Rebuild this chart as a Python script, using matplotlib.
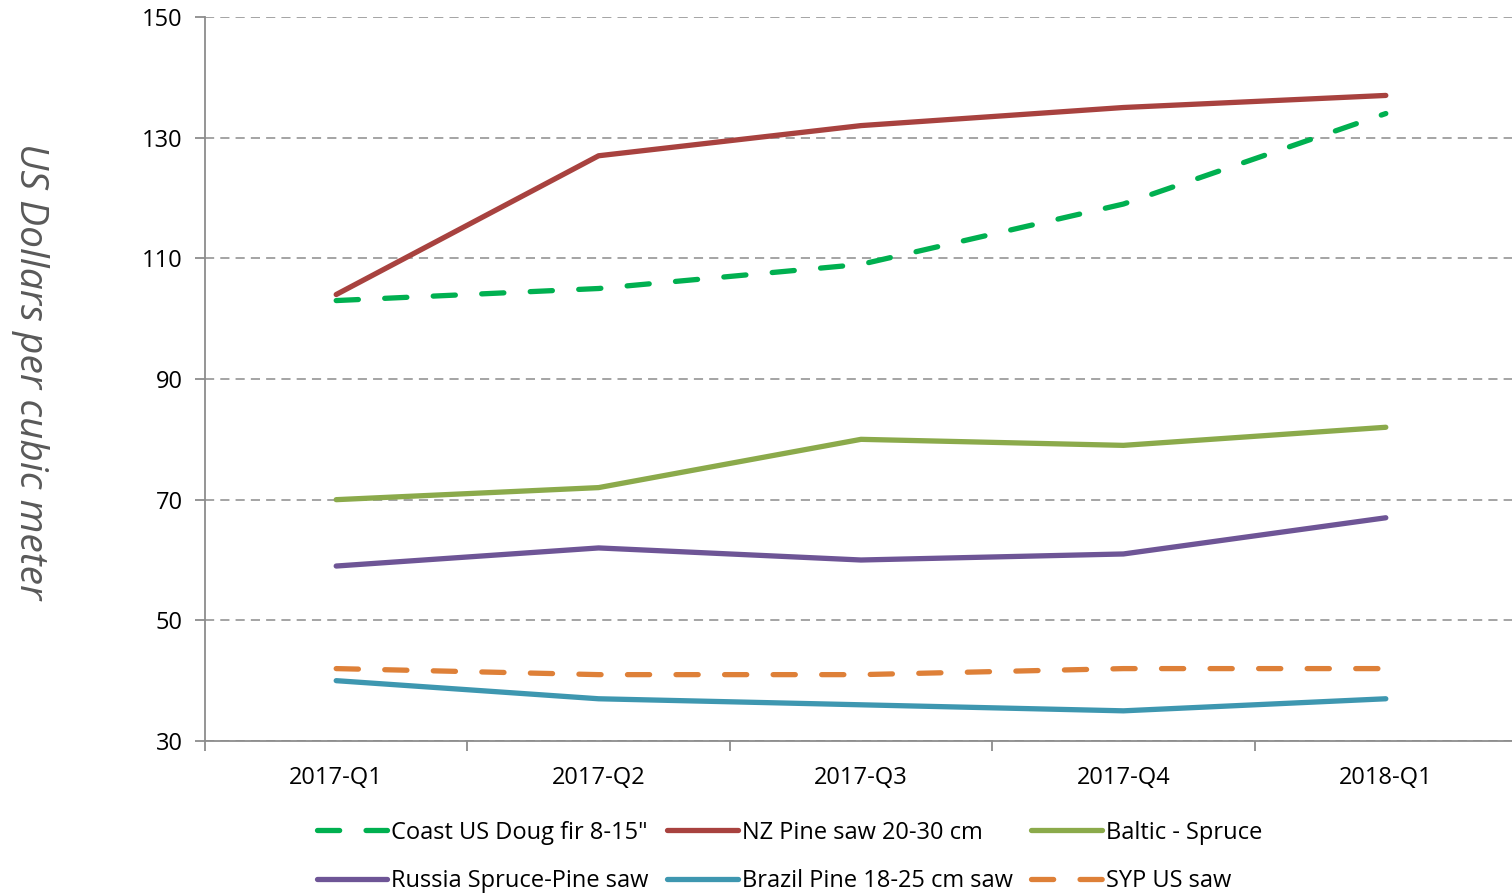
import matplotlib
matplotlib.use("Agg")
import matplotlib.pyplot as plt

plt.rcParams["font.family"] = ["Open Sans", "DejaVu Sans"]

quarters = ["2017-Q1", "2017-Q2", "2017-Q3", "2017-Q4", "2018-Q1"]

coast_doug_fir = [103, 105, 109, 119, 134]
nz_pine = [104, 127, 132, 135, 137]
baltic_spruce = [70, 72, 80, 79, 82]
russia_spruce_pine = [59, 62, 60, 61, 67]
brazil_pine = [40, 37, 36, 35, 37]
syp_us = [42, 41, 41, 42, 42]

y_ticks = [30, 50, 70, 90, 110, 130, 150]

series = [
    ("Coast US Doug fir 8-15\"", coast_doug_fir, "#00B050", True),
    ("NZ Pine saw 20-30 cm", nz_pine, "#A8423F", False),
    ("Baltic - Spruce", baltic_spruce, "#8BAA4B", False),
    ("Russia Spruce-Pine saw", russia_spruce_pine, "#6E5596", False),
    ("Brazil Pine 18-25 cm saw", brazil_pine, "#3E97B0", False),
    ("SYP US saw", syp_us, "#DE8038", True),
]

fig = plt.figure(figsize=(15.12, 8.96), dpi=100)
ax = fig.add_axes([205 / 1512, 1 - 741 / 896, (1517 - 205) / 1512, (741 - 17) / 896])

x = list(range(len(quarters)))
handles = []
for label, vals, color, dashed in series:
    line, = ax.plot(x, vals, color=color, lw=3.8, label=label,
                    solid_capstyle="round", dash_capstyle="round")
    if dashed:
        line.set_dashes((4.2, 5.0))
    handles.append(line)

ax.set_xlim(-0.5, len(quarters) - 0.5)
ax.set_ylim(30, 150)
ax.set_yticks(y_ticks)
ax.set_xticks(x)
ax.set_xticklabels(quarters)
ax.set_xticks([i - 0.5 for i in range(len(quarters) + 1)], minor=True)

ax.grid(axis="y", color="#8c8c8c", linestyle=(0, (6, 4)), lw=1.1)
ax.set_axisbelow(True)
for s in ["top", "right"]:
    ax.spines[s].set_visible(False)
for s in ["left", "bottom"]:
    ax.spines[s].set_color("#8c8c8c")
    ax.spines[s].set_linewidth(1.3)

ax.tick_params(axis="x", which="major", length=0, pad=18, labelsize=17)
ax.tick_params(axis="x", which="minor", length=7, color="#8c8c8c", width=1.3)
ax.tick_params(axis="y", length=7, color="#8c8c8c", width=1.3, labelsize=17, pad=9)

fig.text(30 / 1512, 1 - 371 / 896, "US Dollars per cubic meter", rotation=270,
         ha="center", va="center", fontsize=28, style="italic", color="#595959")

# legend fills column-wise, so interleave to get the row order
order = [0, 3, 1, 4, 2, 5]
fig.legend([handles[i] for i in order], [series[i][0] for i in order],
           loc="center", bbox_to_anchor=(0.522, 1 - 857 / 896), ncol=3,
           frameon=False, fontsize=17, handlelength=3.0, handletextpad=0.15,
           columnspacing=0.8, labelspacing=1.05)

fig.savefig("out.png", dpi=100)
